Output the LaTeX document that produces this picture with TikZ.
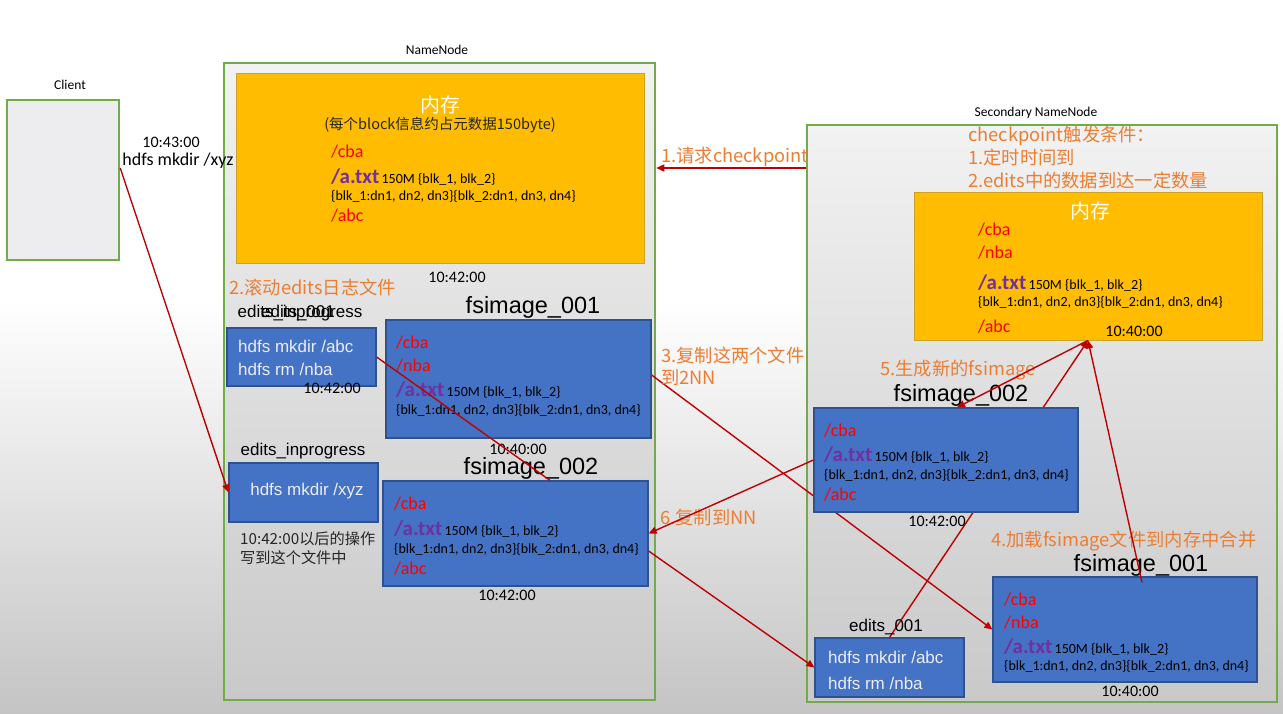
\documentclass[tikz,border=0pt]{standalone}
\usepackage{fontspec}
\setmainfont{Carlito}
\newfontfamily\cjk{Noto Sans CJK SC}
\newfontfamily\arial{Liberation Sans}
\usetikzlibrary{arrows.meta}
\definecolor{cgreen}{HTML}{70AD47}
\definecolor{cblue}{HTML}{4472C4}
\definecolor{cblueline}{HTML}{2F528F}
\definecolor{cgold}{HTML}{FFBC00}
\definecolor{cgoldline}{HTML}{C9A227}
\definecolor{corange}{HTML}{ED7D31}
\definecolor{cred}{HTML}{C00000}
\definecolor{cpath}{HTML}{FF0000}
\definecolor{cpurple}{HTML}{7030A0}
\definecolor{cclient}{HTML}{EDEDF0}
\definecolor{cpanel}{HTML}{F2F2F2}
\definecolor{cpanellow}{HTML}{C9C9C9}
\definecolor{cslide}{HTML}{C4C4C4}
\definecolor{ccmd}{HTML}{EDEDED}
\definecolor{cink}{HTML}{262626}
\pgfdeclareverticalshading{slide}{100bp}{color(0bp)=(cslide); color(25bp)=(cslide); color(54bp)=(white); color(100bp)=(white)}
\pgfdeclarelayer{panels}
\pgfdeclarelayer{under}
\pgfsetlayers{panels,under,main}
\newcommand\fsz[1]{\fontsize{#1}{#1}\selectfont}
\newcommand\pcba{\textcolor{cpath}{\fsz{18}/cba}}
\newcommand\pnba{\textcolor{cpath}{\fsz{18}/nba}}
\newcommand\pabc{\textcolor{cpath}{\fsz{18}/abc}}
\newcommand\patxt{\textcolor{cpurple}{\fsz{21}\bfseries/a.txt} {\fsz{14}150M \{blk\_1, blk\_2\}}}
\newcommand\pblk{{\fsz{14}\{blk\_1:dn1, dn2, dn3\}\{blk\_2:dn1, dn3, dn4\}}}
\tikzset{
  every picture/.style={line width=1pt},
  wh/.style 2 args={minimum width=#1, minimum height=#2},
  frame/.style={draw=cgreen, line width=2.5pt, inner sep=0pt},
  panel/.style={frame, top color=cpanel, bottom color=cpanellow},
  memory/.style={draw=cgoldline, fill=cgold, line width=0.8pt, inner sep=0pt},
  file/.style={draw=cblueline, fill=cblue, line width=1.2pt, inner sep=0pt},
  row/.style={anchor=west, inner sep=0pt},
  fname/.style={font=\arial\fsz{23.5}, inner sep=0pt},
  lname/.style={font=\arial\fsz{17}, inner sep=0pt},
  cmd/.style={anchor=west, inner sep=0pt, font=\arial\fsz{17}, text=ccmd},
  stamp/.style={font=\fsz{16}, inner sep=0pt},
  tag/.style={font=\fsz{13.5}, inner sep=0pt},
  note/.style={font=\cjk\fsz{18.3}, text=corange, inner sep=0pt, anchor=west},
  arrow/.style={draw=cred, line width=1.4pt, -{Triangle[length=8pt, width=7pt]}},
  link/.style={draw=cred, line width=1.4pt},
}
\begin{document}
\begin{tikzpicture}[x=1pt, y=-1pt]
  \useasboundingbox (0,0) rectangle (1283,713);
  % slide and the three machines
  \begin{pgfonlayer}{panels}
    \shade[shading=slide] (0,0) rectangle (1283,713);
    \node[frame, fill=cclient, wh={112pt}{160pt}] (client) at (63,180) {};
    \node[panel, wh={431pt}{637pt}] (nn) at (439.5,381.5) {};
    \node[panel, wh={470pt}{577pt}] (snn) at (1042,413.5) {};
  \end{pgfonlayer}
  \node[tag] (clientlab) at (70,85) {Client};
  \node[tag] (nnlab) at (437,50) {NameNode};
  \node[tag] (snnlab) at (1036,113) {Secondary NameNode};
  \node[stamp] (cltime) at (171,142) {10:43:00};
  \node[font=\fsz{18}, inner sep=0pt] (clcmd) at (178,161) {hdfs mkdir /xyz};

  % NameNode
  \node[memory, wh={408pt}{190pt}] (memA) at (440,168) {};
  \node[font=\cjk\fsz{20}, text=white, inner sep=0pt] (memAtitle) at (440,105) {内存};
  \node[font=\cjk\fsz{14.5}, text=cink, inner sep=0pt] (memAnote) at (440,125) {(每个block信息约占元数据150byte)};
  \foreach \y/\t in {152/\pcba, 177/\patxt, 196/\pblk, 216/\pabc}
    \node[row] (memA-\y) at (331,\y) {\t};
  \node[stamp] (memAtime) at (457,277) {10:42:00};
  \node[note] (roll) at (229,287) {2.滚动edits日志文件};

  \node[lname] (editsAold) at (300,313) {edits\_inprogress};
  \node[lname] (editsAnew) at (298,313) {edits\_001};
  \node[file, wh={149pt}{58pt}] (editsA) at (301.5,357) {};
  \node[cmd] (editsA-1) at (238,346) {hdfs mkdir /abc};
  \node[cmd] (editsA-2) at (238,369) {hdfs rm /nba};
  \node[stamp] (editsAtime) at (332,388) {10:42:00};

  \node[fname] (imgAlab) at (533,307) {fsimage\_001};
  \node[file, wh={265pt}{118pt}] (imgA) at (518.5,379) {};
  \foreach \y/\t in {343/\pcba, 366/\pnba, 390/\patxt, 410/\pblk}
    \node[row] (imgA-\y) at (396,\y) {\t};
  \node[stamp] (imgAtime) at (518,449) {10:40:00};

  \node[fname] (imgBlab) at (531,468) {fsimage\_002};
  \node[file, wh={265pt}{105pt}] (imgB) at (515.5,533.5) {};
  \foreach \y/\t in {504/\pcba, 529/\patxt, 549/\pblk, 569/\pabc}
    \node[row] (imgB-\y) at (394,\y) {\t};
  \node[stamp] (imgBtime) at (507,595) {10:42:00};

  \node[lname] (inproglab) at (303,451) {edits\_inprogress};
  \node[file, wh={149pt}{59pt}] (inprog) at (303.5,492.5) {};
  \node[cmd, anchor=center] (inprog-1) at (307,491) {hdfs mkdir /xyz};
  \foreach \y/\t [count=\i] in {539/10:42:00以后的操作, 558/写到这个文件中}
    \node[row, font=\cjk\fsz{15.2}, text=cink] (later-\i) at (240,\y) {\t};

  % Secondary NameNode
  \node[note] (ask) at (661,157) {1.请求checkpoint};
  \foreach \y/\t [count=\i] in {136/checkpoint触发条件：, 158/1.定时时间到, 181/2.edits中的数据到达一定数量}
    \node[note] (cond-\i) at (968,\y) {\t};
  \node[memory, wh={348pt}{148pt}] (memB) at (1088,266) {};
  \node[font=\cjk\fsz{20}, text=white, inner sep=0pt] (memBtitle) at (1090,211) {内存};
  \foreach \y/\t in {230/\pcba, 253/\pnba, 283/\patxt, 302/\pblk, 327/\pabc}
    \node[row] (memB-\y) at (978,\y) {\t};
  \node[stamp] (memBtime) at (1134,331) {10:40:00};

  \node[note] (copy-1) at (661,355) {3.复制这两个文件};
  \node[note] (copy-2) at (661,377) {到2NN};
  \node[note] (merge) at (880,370) {5.生成新的fsimage};

  \node[fname] (imgClab) at (961,395) {fsimage\_002};
  \node[file, wh={264pt}{104pt}] (imgC) at (946,460) {};
  \foreach \y/\t in {431/\pcba, 455/\patxt, 475/\pblk, 495/\pabc}
    \node[row] (imgC-\y) at (824,\y) {\t};
  \node[stamp] (imgCtime) at (937,521) {10:42:00};
  \node[note] (load) at (991,541) {4.加载fsimage文件到内存中合并};

  \node[fname] (imgDlab) at (1141,565) {fsimage\_001};
  \node[file, wh={264pt}{105pt}] (imgD) at (1125,629.5) {};
  \foreach \y/\t in {600/\pcba, 623/\pnba, 647/\patxt, 666/\pblk}
    \node[row] (imgD-\y) at (1004,\y) {\t};
  \node[stamp] (imgDtime) at (1130,691) {10:40:00};

  \node[lname] (editsBlab) at (886,627) {edits\_001};
  \node[file, wh={149pt}{59pt}] (editsB) at (889.5,667.5) {};
  \node[cmd] (editsB-1) at (828,657) {hdfs mkdir /abc};
  \node[cmd] (editsB-2) at (828,683) {hdfs rm /nba};
  \node[note] (back) at (660,518) {6.复制到NN};

  % connectors
  \draw[arrow] ([yshift=12pt]client.east) -- (inprog.west);
  \draw[arrow] ([yshift=245.5pt]snn.west) -- ([yshift=213.5pt]nn.east);
  \draw[link] (editsA.east) -- ([xshift=34.5pt]imgB.north);
  \begin{pgfonlayer}{under}
    \draw[arrow] ([yshift=4pt]imgA.east) -- (imgD.west);
    \draw[arrow] (editsB.north) -- (memB.south);
  \end{pgfonlayer}
  \draw[arrow] ([yshift=-17.5pt]imgB.east) -- (editsB.west);
  \draw[arrow] (imgC.west) -- (imgB.east);
  \draw[arrow] (memB.south) -- ([xshift=11pt]imgC.north);
  \draw[arrow] ([xshift=17pt,yshift=-6pt]imgD.north) -- (memB.south);
\end{tikzpicture}
\end{document}
